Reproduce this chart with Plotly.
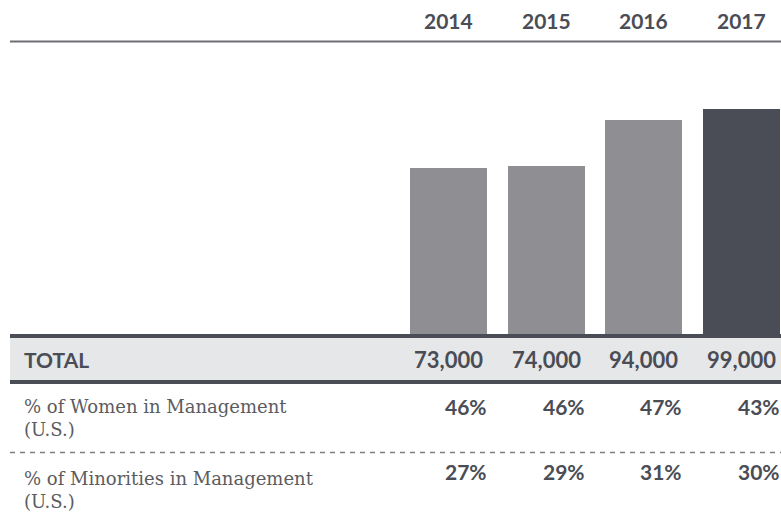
import plotly.graph_objects as go

# data
years = [2014, 2015, 2016, 2017]
totals = [73000, 74000, 94000, 99000]
total_labels = ["73,000", "74,000", "94,000", "99,000"]
women_pct = ["46%", "46%", "47%", "43%"]
minority_pct = ["27%", "29%", "31%", "30%"]
row_labels = ["% of Women in Management<br>(U.S.)", "% of Minorities in Management<br>(U.S.)"]

W, H = 781, 522
bar_w = 0.79
dark = "#4a4d55"
gray_bar = "#8f8e93"
sans = "Lato"
serif = "DejaVu Serif"


def py(px):
    # pixel from top -> paper y
    return 1 - px / H


def pxx(px):
    return px / W


colors = [gray_bar] * (len(years) - 1) + ["#4a4d56"]

fig = go.Figure()
fig.add_trace(go.Bar(
    x=years, y=totals, width=bar_w,
    marker=dict(color=colors, line=dict(width=0)),
    hoverinfo="skip",
))

shapes = [
    # top rule
    dict(type="line", xref="paper", yref="paper", x0=pxx(10), x1=1, y0=py(41.5), y1=py(41.5),
         line=dict(color="#6d6e72", width=2)),
    # TOTAL band
    dict(type="rect", xref="paper", yref="paper", x0=pxx(10), x1=1, y0=py(382), y1=py(336),
         fillcolor="#e6e7e8", line=dict(width=0), layer="below"),
    dict(type="line", xref="paper", yref="paper", x0=pxx(10), x1=1, y0=py(336), y1=py(336),
         line=dict(color=dark, width=4)),
    dict(type="line", xref="paper", yref="paper", x0=pxx(10), x1=1, y0=py(382), y1=py(382),
         line=dict(color=dark, width=4)),
    # dashed separator
    dict(type="line", xref="paper", yref="paper", x0=pxx(10), x1=1, y0=py(452.5), y1=py(452.5),
         line=dict(color="#7d7e82", width=1.5, dash="5px,5px")),
]

ann = []
for yr, t, w, m in zip(years, total_labels, women_pct, minority_pct):
    ann.append(dict(x=yr, y=py(20.5), xref="x", yref="paper", text=f"<b>{yr}</b>",
                    showarrow=False, xanchor="center", yanchor="middle",
                    font=dict(family=sans, size=21, color=dark)))
    ann.append(dict(x=yr, y=py(359), xref="x", yref="paper", text=f"<b>{t}</b>",
                    showarrow=False, xanchor="center", yanchor="middle",
                    font=dict(family=sans, size=22, color=dark)))
    ann.append(dict(x=yr + bar_w / 2, y=py(406), xref="x", yref="paper", text=f"<b>{w}</b>",
                    showarrow=False, xanchor="right", yanchor="middle", xshift=2,
                    font=dict(family=sans, size=21, color=dark)))
    ann.append(dict(x=yr + bar_w / 2, y=py(471), xref="x", yref="paper", text=f"<b>{m}</b>",
                    showarrow=False, xanchor="right", yanchor="middle", xshift=2,
                    font=dict(family=sans, size=21, color=dark)))

ann.append(dict(x=pxx(22), y=py(359), xref="paper", yref="paper", text="<b>TOTAL</b>",
                showarrow=False, xanchor="left", yanchor="middle",
                font=dict(family=sans, size=21, color=dark)))
for lab, yc in zip(row_labels, [417.5, 489.5]):
    ann.append(dict(x=pxx(22), y=py(yc), xref="paper", yref="paper", text=lab,
                    showarrow=False, xanchor="left", yanchor="middle", align="left",
                    font=dict(family=serif, size=18, color="#5b5c60")))

fig.update_layout(
    width=W, height=H,
    margin=dict(l=0, r=0, t=0, b=0),
    paper_bgcolor="white", plot_bgcolor="white",
    showlegend=False,
    bargap=0,
    xaxis=dict(range=[years[0] - 4.592, years[-1] + 0.404], visible=False, fixedrange=True),
    yaxis=dict(range=[0, 146900], domain=[py(334), 1], visible=False, fixedrange=True),
    shapes=shapes,
    annotations=ann,
    hovermode=False,
)

fig.write_html("out.html", config=dict(displayModeBar=False),
               post_script="document.body.style.margin='0';document.body.style.overflow='hidden';")
